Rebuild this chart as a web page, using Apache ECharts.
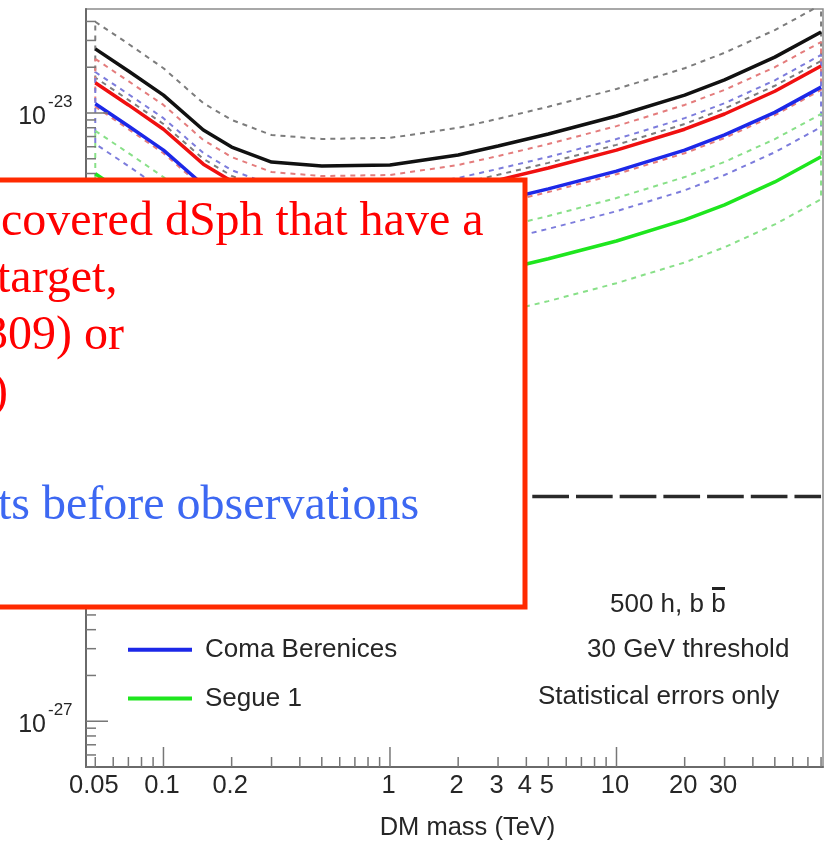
<!DOCTYPE html>
<html>
<head>
<meta charset="utf-8">
<script src="https://cdn.jsdelivr.net/npm/echarts@6/dist/echarts.min.js"></script>
<style>
  html, body { margin: 0; padding: 0; background: #fff; }
  #chart { width: 831px; height: 846px; }
</style>
</head>
<body>
<div id="chart"></div>
<script>
// DM mass grid (TeV) shared by every sensitivity curve
const masses = [0.05, 0.07, 0.1, 0.15, 0.2, 0.3, 0.5, 0.7, 1, 2, 3, 5, 10, 20, 30, 50, 80];

// <sigma v> sensitivity (cm^3 s^-1), 500 h, b bbar channel
const ursaMinor     = [2.64e-23, 1.89e-23, 1.31e-23, 7.73e-24, 5.97e-24, 4.76e-24, 4.48e-24, 4.52e-24, 4.55e-24, 5.30e-24, 6.07e-24, 7.28e-24, 9.55e-24, 1.31e-23, 1.65e-23, 2.33e-23, 3.41e-23];
const ursaMinorHigh = [3.98e-23, 2.85e-23, 1.97e-23, 1.16e-23, 9.00e-24, 7.17e-24, 6.75e-24, 6.81e-24, 6.86e-24, 7.99e-24, 9.15e-24, 1.10e-23, 1.44e-23, 1.97e-23, 2.49e-23, 3.51e-23, 5.14e-23];
const ursaMinorLow  = [1.71e-23, 1.22e-23, 8.46e-24, 4.99e-24, 3.86e-24, 3.08e-24, 2.89e-24, 2.92e-24, 2.94e-24, 3.42e-24, 3.92e-24, 4.70e-24, 6.17e-24, 8.46e-24, 1.07e-23, 1.51e-23, 2.20e-23];

const draco         = [1.58e-23, 1.13e-23, 7.82e-24, 4.61e-24, 3.56e-24, 2.84e-24, 2.67e-24, 2.70e-24, 2.72e-24, 3.16e-24, 3.62e-24, 4.35e-24, 5.70e-24, 7.82e-24, 9.85e-24, 1.39e-23, 2.04e-23];
const dracoHigh     = [2.27e-23, 1.62e-23, 1.13e-23, 6.64e-24, 5.13e-24, 4.09e-24, 3.85e-24, 3.88e-24, 3.91e-24, 4.55e-24, 5.21e-24, 6.25e-24, 8.20e-24, 1.13e-23, 1.42e-23, 2.00e-23, 2.93e-23];
const dracoLow      = [1.10e-23, 7.84e-24, 5.44e-24, 3.21e-24, 2.48e-24, 1.98e-24, 1.86e-24, 1.88e-24, 1.89e-24, 2.20e-24, 2.52e-24, 3.02e-24, 3.96e-24, 5.44e-24, 6.85e-24, 9.67e-24, 1.42e-23];

const comaBerenices = [1.15e-23, 8.22e-24, 5.70e-24, 3.36e-24, 2.60e-24, 2.07e-24, 1.95e-24, 1.97e-24, 1.98e-24, 2.31e-24, 2.64e-24, 3.17e-24, 4.15e-24, 5.70e-24, 7.18e-24, 1.01e-23, 1.48e-23];
const comaHigh      = [1.86e-23, 1.33e-23, 9.25e-24, 5.46e-24, 4.21e-24, 3.36e-24, 3.16e-24, 3.19e-24, 3.21e-24, 3.74e-24, 4.29e-24, 5.14e-24, 6.74e-24, 9.25e-24, 1.16e-23, 1.64e-23, 2.41e-23];
const comaLow       = [6.26e-24, 4.48e-24, 3.10e-24, 1.83e-24, 1.41e-24, 1.13e-24, 1.06e-24, 1.07e-24, 1.08e-24, 1.26e-24, 1.44e-24, 1.73e-24, 2.26e-24, 3.10e-24, 3.91e-24, 5.52e-24, 8.08e-24];

const segue1        = [3.99e-24, 2.85e-24, 1.98e-24, 1.17e-24, 9.01e-25, 7.19e-25, 6.76e-25, 6.83e-25, 6.87e-25, 8.00e-25, 9.17e-25, 1.10e-24, 1.44e-24, 1.98e-24, 2.49e-24, 3.52e-24, 5.15e-24];
const segueHigh     = [7.63e-24, 5.46e-24, 3.79e-24, 2.23e-24, 1.73e-24, 1.38e-24, 1.29e-24, 1.31e-24, 1.31e-24, 1.53e-24, 1.75e-24, 2.10e-24, 2.76e-24, 3.79e-24, 4.77e-24, 6.73e-24, 9.85e-24];
const segueLow      = [2.10e-24, 1.50e-24, 1.04e-24, 6.15e-25, 4.75e-25, 3.79e-25, 3.57e-25, 3.60e-25, 3.62e-25, 4.22e-25, 4.83e-25, 5.79e-25, 7.60e-25, 1.04e-24, 1.31e-24, 1.85e-24, 2.71e-24];

// thermal relic cross-section
const relicMasses = [0.05, 80];
const relicValues = [3e-26, 3e-26];

// axis ranges
const X_MIN = 0.0455, X_MAX = 81.6;
const Y_MIN = 5e-28, Y_MAX = 4.83e-23;

// tick marks and labels
const xMajorTicks = [0.1, 1, 10];
const xMinorTicks = [0.05, 0.06, 0.07, 0.08, 0.09, 0.2, 0.3, 0.4, 0.5, 0.6, 0.7, 0.8, 0.9,
                     2, 3, 4, 5, 6, 7, 8, 9, 20, 30, 40, 50, 60, 70, 80];
const xTickLabels = ['0.05', '0.1', '0.2', '1', '2', '3', '4', '5', '10', '20', '30'];
const yMajorTicks = [1e-27, 1e-26, 1e-25, 1e-24, 1e-23];
const yTickExponents = ['-27', '-26', '-25', '-24', '-23'];
const yMinorTicks = [5e-28, 6e-28, 7e-28, 8e-28, 9e-28,
                     2e-27, 3e-27, 4e-27, 5e-27, 6e-27, 7e-27, 8e-27, 9e-27,
                     2e-26, 3e-26, 4e-26, 5e-26, 6e-26, 7e-26, 8e-26, 9e-26,
                     2e-25, 3e-25, 4e-25, 5e-25, 6e-25, 7e-25, 8e-25, 9e-25,
                     2e-24, 3e-24, 4e-24, 5e-24, 6e-24, 7e-24, 8e-24, 9e-24,
                     2e-23, 3e-23, 4e-23];

const legendNames = ['Draco', 'Coma Berenices', 'Segue 1'];

const SANS = '"Liberation Sans", Arial, Helvetica, sans-serif';
const SERIF = '"Liberation Serif", "Times New Roman", serif';
const TICK_COLOR = '#777';
const TEXT_COLOR = '#262626';

const pts = vals => masses.map((m, i) => [m, vals[i]]);
// closed outline: upper edge left->right, lower edge right->left
const outline = (hi, lo) => {
  const up = pts(hi);
  return up.concat(pts(lo).reverse(), [up[0]]);
};

function band(name, hi, lo, color) {
  return {
    name, type: 'line', data: outline(hi, lo), symbol: 'none', silent: true, z: 2,
    lineStyle: { color, width: 2, type: [5, 5] }
  };
}
function curve(name, vals, color) {
  return {
    name, type: 'line', data: pts(vals), symbol: 'none', silent: true, z: 3,
    color, itemStyle: { color }, lineStyle: { color, width: 3.5 }
  };
}
function tickSeries(values, alongX, len) {
  return {
    type: 'custom', silent: true, clip: false, z: 4,
    data: values.map(v => alongX ? [v, Y_MIN] : [X_MIN, v]),
    renderItem: (params, api) => {
      const p = api.coord([api.value(0), api.value(1)]);
      const shape = alongX
        ? { x1: p[0], y1: p[1], x2: p[0], y2: p[1] - len }
        : { x1: p[0], y1: p[1], x2: p[0] + len, y2: p[1] };
      return { type: 'line', shape, style: { stroke: TICK_COLOR, lineWidth: 1.5 } };
    }
  };
}

const chart = echarts.init(document.getElementById('chart'), null, { renderer: 'canvas' });

const option = {
  animation: false,
  backgroundColor: '#fff',
  grid: {
    left: 86, top: 9, right: 8, bottom: 79,
    show: true, borderColor: '#8c8c8c', borderWidth: 1.5,
    containLabel: false, outerBoundsMode: 'none'
  },
  xAxis: {
    type: 'log', logBase: 10, min: X_MIN, max: X_MAX,
    axisLine: { show: true, lineStyle: { color: '#6a6a6a', width: 2 } },
    axisTick: { show: false }, axisLabel: { show: false }, splitLine: { show: false }
  },
  yAxis: {
    type: 'log', logBase: 10, min: Y_MIN, max: Y_MAX,
    axisLine: { show: true, lineStyle: { color: '#6a6a6a', width: 2 } },
    axisTick: { show: false }, axisLabel: { show: false }, splitLine: { show: false }
  },
  legend: {
    data: legendNames,
    orient: 'vertical', left: 123, top: 581,
    icon: 'rect', itemWidth: 64, itemHeight: 4, itemGap: 18.7,
    selectedMode: false,
    textStyle: { fontFamily: SANS, fontSize: 26, color: TEXT_COLOR, lineHeight: 30, padding: [0, 0, 0, 8] }
  },
  series: [
    band('Ursa Minor band', ursaMinorHigh, ursaMinorLow, '#7c7c7c'),
    band('Draco band', dracoHigh, dracoLow, '#e47c7c'),
    band('Coma Berenices band', comaHigh, comaLow, '#7c7cdc'),
    band('Segue 1 band', segueHigh, segueLow, '#88e088'),
    {
      name: 'Thermal relic', type: 'line', symbol: 'none', silent: true, z: 3,
      data: relicMasses.map((m, i) => [m, relicValues[i]]),
      lineStyle: { color: '#2a2a2a', width: 3.5, type: [36.7, 7] }
    },
    curve('Ursa Minor', ursaMinor, '#111111'),
    curve('Draco', draco, '#f01010'),
    curve('Coma Berenices', comaBerenices, '#1c28e8'),
    curve('Segue 1', segue1, '#1ee61e'),
    tickSeries(xMinorTicks, true, 10),
    tickSeries(xMajorTicks, true, 20),
    tickSeries(yMinorTicks, false, 10),
    tickSeries(yMajorTicks, false, 22),
    {
      // x tick labels
      type: 'custom', silent: true, clip: false, z: 4,
      data: xTickLabels.map(s => [Number(s), Y_MIN]),
      renderItem: (params, api) => {
        const p = api.coord([api.value(0), api.value(1)]);
        return {
          type: 'text', x: p[0] - 1.5, y: p[1] + 19,
          style: { text: xTickLabels[params.dataIndex], font: '25.5px ' + SANS, fill: TEXT_COLOR, align: 'center', verticalAlign: 'middle' }
        };
      }
    },
    {
      // y tick labels: 10 with exponent
      type: 'custom', silent: true, clip: false, z: 4,
      data: yMajorTicks.map(v => [X_MIN, v]),
      renderItem: (params, api) => {
        const p = api.coord([api.value(0), api.value(1)]);
        return {
          type: 'group',
          children: [
            { type: 'text', x: p[0] - 40, y: p[1] + 4,
              style: { text: '10', font: '25px ' + SANS, fill: TEXT_COLOR, align: 'right', verticalAlign: 'middle' } },
            { type: 'text', x: p[0] - 38, y: p[1] - 11,
              style: { text: yTickExponents[params.dataIndex], font: '17px ' + SANS, fill: TEXT_COLOR, align: 'left', verticalAlign: 'middle' } }
          ]
        };
      }
    }
  ],
  graphic: {
    elements: [
      { type: 'text', x: 467.5, y: 828, z: 10,
        style: { text: 'DM mass (TeV)', font: '25.5px ' + SANS, fill: TEXT_COLOR, align: 'center', verticalAlign: 'middle' } },
      { type: 'text', x: 610, y: 605, z: 10,
        style: { text: '500 h, b b', font: '26px ' + SANS, fill: TEXT_COLOR, align: 'left', verticalAlign: 'middle' } },
      { type: 'rect', shape: { x: 712, y: 587, width: 13, height: 3 }, z: 10, style: { fill: '#222' } },
      { type: 'text', x: 587, y: 650, z: 10,
        style: { text: '30 GeV threshold', font: '26px ' + SANS, fill: TEXT_COLOR, align: 'left', verticalAlign: 'middle' } },
      { type: 'text', x: 538, y: 697, z: 10,
        style: { text: 'Statistical errors only', font: '26px ' + SANS, fill: TEXT_COLOR, align: 'left', verticalAlign: 'middle' } },

      // callout box
      { type: 'rect', shape: { x: -20, y: 180, width: 545, height: 427 }, z: 100,
        style: { fill: '#fff', stroke: '#ff2a00', lineWidth: 5 } },
      { type: 'text', x: 1, y: 222, z: 101,
        style: { text: 'covered dSph that have a', font: '48px ' + SERIF, fill: '#ff0000', align: 'left', verticalAlign: 'middle' } },
      { type: 'text', x: -3, y: 279, z: 101,
        style: { text: 'target,', font: '48px ' + SERIF, fill: '#ff0000', align: 'left', verticalAlign: 'middle' } },
      { type: 'text', x: -16, y: 336, z: 101,
        style: { text: '309) or', font: '48px ' + SERIF, fill: '#ff0000', align: 'left', verticalAlign: 'middle' } },
      { type: 'text', x: -8, y: 393, z: 101,
        style: { text: ')', font: '48px ' + SERIF, fill: '#ff0000', align: 'left', verticalAlign: 'middle' } },
      { type: 'text', x: -2, y: 506, z: 101,
        style: { text: 'ts before observations', font: '48px ' + SERIF, fill: '#3d68f2', align: 'left', verticalAlign: 'middle' } }
    ]
  }
};

chart.setOption(option);
</script>
</body>
</html>
